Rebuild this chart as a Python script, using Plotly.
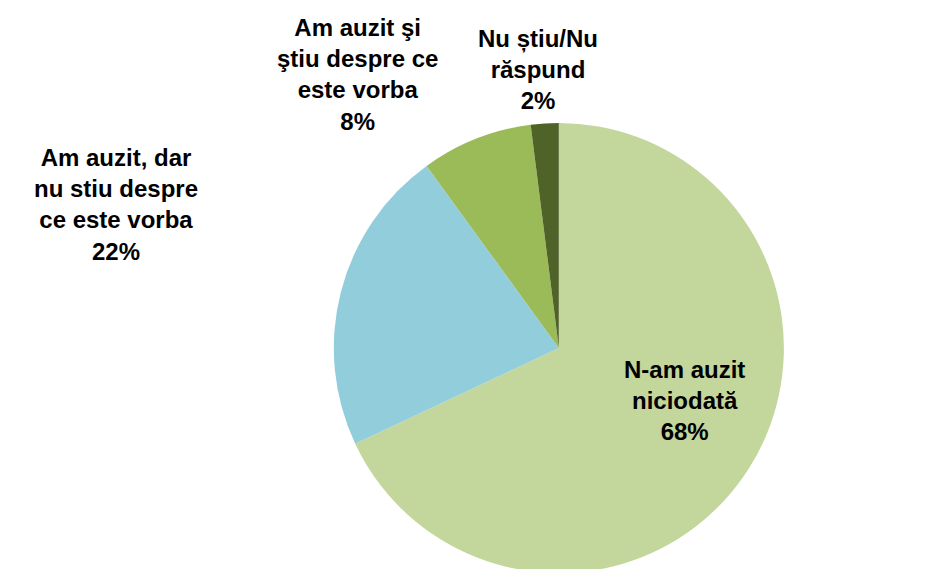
import plotly.graph_objects as go

labels = ["N-am auzit niciodată", "Am auzit, dar nu stiu despre ce este vorba",
          "Am auzit şi ştiu despre ce este vorba", "Nu știu/Nu răspund"]
text_labels = ["N-am auzit<br>niciodată", "Am auzit, dar<br>nu stiu despre<br>ce este vorba",
               "Am auzit şi<br>ştiu despre ce<br>este vorba", "Nu știu/Nu<br>răspund"]
values = [68, 22, 8, 2]
colors = ["#C3D69B", "#92CDDC", "#9BBB59", "#4F6228"]

# label anchor positions (paper coordinates)
label_x = [0.72, 0.115, 0.372, 0.564]
label_y = [0.31, 0.655, 0.884, 0.892]

fig = go.Figure(go.Pie(
    labels=labels,
    values=values,
    sort=False,
    direction="clockwise",
    rotation=0,
    marker=dict(colors=colors, line=dict(width=0)),
    textinfo="none",
    hoverinfo="label+percent",
    showlegend=False,
    domain=dict(x=[0.3465, 0.8255], y=[0.007, 0.798]),
))

total = sum(values)
for t, v, x, y in zip(text_labels, values, label_x, label_y):
    fig.add_annotation(
        x=x, y=y, xref="paper", yref="paper",
        text=f"<b>{t}<br>{round(100 * v / total)}%</b>",
        showarrow=False, align="center",
        xanchor="center", yanchor="middle",
        font=dict(family="Liberation Sans, Arial, sans-serif", size=24, color="black"),
    )

fig.update_layout(
    width=940, height=569,
    margin=dict(l=0, r=0, t=0, b=0),
    paper_bgcolor="white",
    plot_bgcolor="white",
)

fig.write_html("out.html")
